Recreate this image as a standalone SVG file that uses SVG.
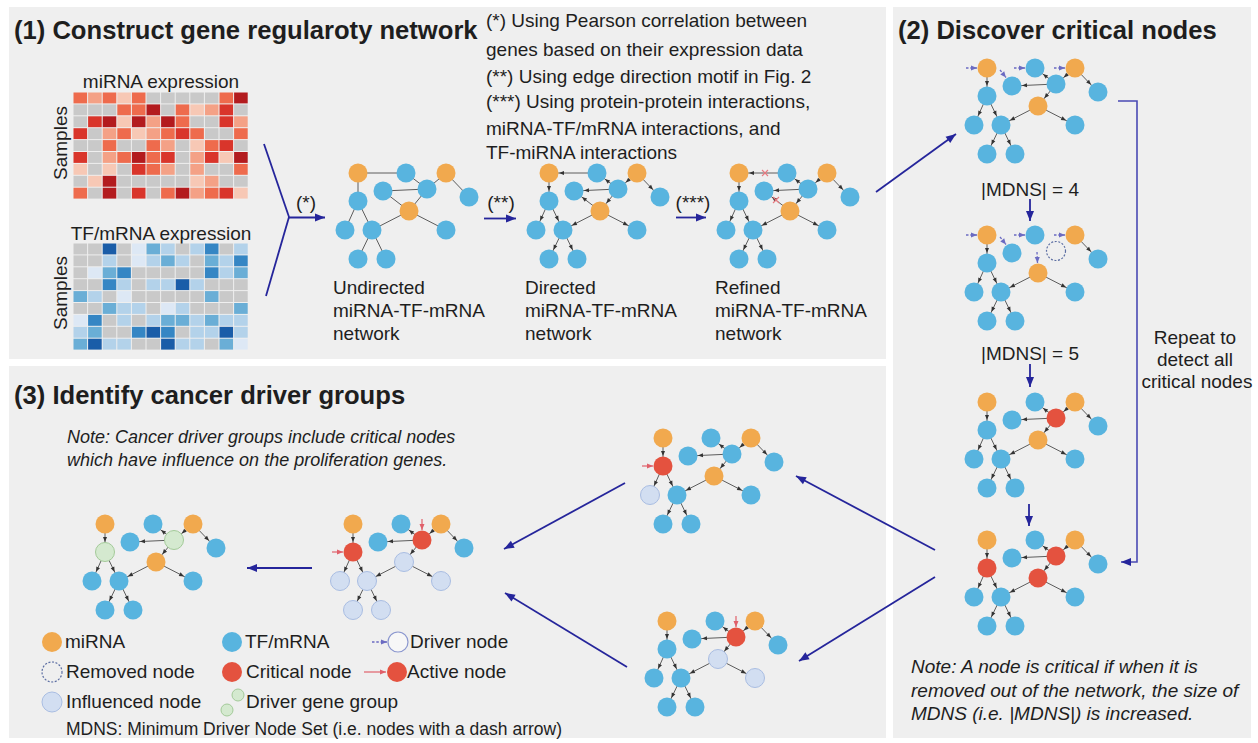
<svg xmlns="http://www.w3.org/2000/svg" xmlns:xlink="http://www.w3.org/1999/xlink" width="1258" height="743" viewBox="0 0 1258 743">
<style>
.t{font-family:"Liberation Sans",Arial,sans-serif;font-size:19px;fill:#1e1e1e}
.h{font-weight:bold;font-size:25.6px}
.it{font-style:italic}
.o{fill:#f1a94e}.b{fill:#58b4df}.r{fill:#e4523f}
.i{fill:#d2def1;stroke:#a9bde2;stroke-width:1}
.g{fill:#d4e9cf;stroke:#a3ca99;stroke-width:1}
.e{stroke:#5c5c5c;stroke-width:1;fill:none}
.ea{stroke:#5c5c5c;stroke-width:1;marker-end:url(#ah)}
.nv{stroke:#25259b;stroke-width:1.8;fill:none;marker-end:url(#an)}
.dr{stroke:#6b6bc2;stroke-width:1.3;stroke-dasharray:2.5 1.8;marker-end:url(#ad)}
.ac{stroke:#e0606a;stroke-width:1.2;marker-end:url(#ar)}
.x{stroke:#e8797f;stroke-width:1.1}
.rm{fill:none;stroke:#5d6fa3;stroke-width:1.2;stroke-dasharray:2 1.6}
.g0{fill:#c9c9c9}.r1{fill:#f7c8b5}.r2{fill:#f4a186}.r3{fill:#ee6b4d}.r4{fill:#d9352b}.r5{fill:#b31b1e}
.u1{fill:#dde8f5}.u2{fill:#b3d2ea}.u3{fill:#6aaed6}.u4{fill:#3586c4}.u5{fill:#1a5da8}
</style>
<defs>
<marker id="ah" markerUnits="userSpaceOnUse" markerWidth="20" markerHeight="10" viewBox="0 -5 20 10" refX="19" refY="0" orient="auto"><path d="M4,-2 L9,0 L4,2 z" fill="#333"/></marker>
<marker id="ad" markerUnits="userSpaceOnUse" markerWidth="8" markerHeight="8" viewBox="0 -4 8 8" refX="8" refY="0" orient="auto"><path d="M2,-2.5 L8,0 L2,2.5 z" fill="#6b6bc2"/></marker>
<marker id="ar" markerUnits="userSpaceOnUse" markerWidth="8" markerHeight="8" viewBox="0 -4 8 8" refX="8" refY="0" orient="auto"><path d="M2,-2.5 L8,0 L2,2.5 z" fill="#e0606a"/></marker>
<marker id="an" markerUnits="userSpaceOnUse" markerWidth="12" markerHeight="10" viewBox="0 -5 12 10" refX="11" refY="0" orient="auto"><path d="M1,-4 L11,0 L1,4 z" fill="#25259b"/></marker>
<rect id="c" width="13.6" height="10.9"/>
<g id="U">
<line class="e" x1="0" y1="0" x2="48" y2="0"/><line class="e" x1="0" y1="0" x2="0" y2="28"/>
<line class="e" x1="0" y1="28" x2="-13" y2="57"/><line class="e" x1="0" y1="28" x2="14" y2="57"/>
<line class="e" x1="14" y1="57" x2="0" y2="86"/><line class="e" x1="14" y1="57" x2="28" y2="86"/>
<line class="e" x1="48" y1="0" x2="69" y2="16"/><line class="e" x1="25" y1="18" x2="69" y2="16"/>
<line class="e" x1="69" y1="16" x2="88" y2="0"/><line class="e" x1="88" y1="0" x2="111" y2="24"/>
<line class="e" x1="69" y1="16" x2="51" y2="38"/><line class="e" x1="51" y1="38" x2="14" y2="57"/>
<line class="e" x1="51" y1="38" x2="88" y2="57"/><line class="e" x1="25" y1="18" x2="51" y2="38"/>
</g>
<g id="E1">
<line class="ea" x1="0" y1="0" x2="0" y2="28"/>
<line class="ea" x1="0" y1="28" x2="-13" y2="57"/>
<line class="ea" x1="0" y1="28" x2="14" y2="57"/>
<line class="ea" x1="14" y1="57" x2="0" y2="86"/>
<line class="ea" x1="14" y1="57" x2="28" y2="86"/>
<line class="ea" x1="88" y1="0" x2="111" y2="24"/>
<line class="ea" x1="51" y1="38" x2="14" y2="57"/>
<line class="ea" x1="51" y1="38" x2="88" y2="57"/>
</g>
<g id="E2">
<line class="ea" x1="69" y1="16" x2="25" y2="18"/>
<line class="ea" x1="69" y1="16" x2="48" y2="0"/>
<line class="ea" x1="88" y1="0" x2="69" y2="16"/>
<line class="ea" x1="69" y1="16" x2="51" y2="38"/>
</g>
<g id="E3">
<line class="ea" x1="48" y1="0" x2="0" y2="0"/>
<line class="ea" x1="51" y1="38" x2="25" y2="18"/>
</g>
<g id="N0">
<circle class="o" cx="0" cy="0" r="9.5"/><circle class="b" cx="48" cy="0" r="9.5"/><circle class="o" cx="88" cy="0" r="9.5"/><circle class="b" cx="25" cy="18" r="9.5"/><circle class="b" cx="69" cy="16" r="9.5"/><circle class="b" cx="111" cy="24" r="9.5"/><circle class="b" cx="0" cy="28" r="9.5"/><circle class="o" cx="51" cy="38" r="9.5"/><circle class="b" cx="-13" cy="57" r="9.5"/><circle class="b" cx="14" cy="57" r="9.5"/><circle class="b" cx="88" cy="57" r="9.5"/><circle class="b" cx="0" cy="86" r="9.5"/><circle class="b" cx="28" cy="86" r="9.5"/>
</g>
<g id="DRV">
<line class="dr" x1="-21" y1="0" x2="-10" y2="0"/>
<line class="dr" x1="13" y1="2" x2="19" y2="9.5"/>
<line class="dr" x1="27" y1="0" x2="38" y2="0"/>
<line class="dr" x1="67" y1="0" x2="78" y2="0"/>
</g>
</defs>

<rect width="1258" height="743" fill="#ffffff"/>
<rect x="9" y="7" width="877" height="352" fill="#efefef"/>
<rect x="893" y="7" width="358" height="731" fill="#efefef"/>
<rect x="9" y="366" width="877" height="372" fill="#efefef"/>

<g id="titles">
<text class="t h" x="14" y="39">(1) Construct gene regularoty network</text>
<text class="t h" x="898" y="39">(2) Discover critical nodes</text>
<text class="t h" x="14" y="404">(3) Identify cancer driver groups</text>
</g>

<g id="notes1">
<text class="t" x="486" y="27">(*) Using Pearson correlation between</text>
<text class="t" x="486" y="56">genes based on their expression data</text>
<text class="t" x="486" y="83">(**) Using edge direction motif in Fig. 2</text>
<text class="t" x="486" y="108">(***) Using protein-protein interactions,</text>
<text class="t" x="486" y="135">miRNA-TF/mRNA interactions, and</text>
<text class="t" x="486" y="159">TF-miRNA interactions</text>
</g>

<g id="heatmap-mirna">
<text class="t" x="161" y="88" text-anchor="middle">miRNA expression</text>
<text class="t" transform="translate(67,143) rotate(-90)" text-anchor="middle">Samples</text>
<g transform="translate(0,92.5)"><use href="#c" x="73.5" class="r3"/><use href="#c" x="88.1" class="r2"/><use href="#c" x="102.7" class="r3"/><use href="#c" x="117.3" class="r1"/><use href="#c" x="131.9" class="r3"/><use href="#c" x="146.5" class="g0"/><use href="#c" x="161.1" class="g0"/><use href="#c" x="175.7" class="g0"/><use href="#c" x="190.3" class="g0"/><use href="#c" x="204.9" class="g0"/><use href="#c" x="219.5" class="r3"/><use href="#c" x="234.1" class="r5"/></g>
<g transform="translate(0,104.4)"><use href="#c" x="73.5" class="g0"/><use href="#c" x="88.1" class="g0"/><use href="#c" x="102.7" class="g0"/><use href="#c" x="117.3" class="r3"/><use href="#c" x="131.9" class="r3"/><use href="#c" x="146.5" class="r5"/><use href="#c" x="161.1" class="g0"/><use href="#c" x="175.7" class="r3"/><use href="#c" x="190.3" class="r1"/><use href="#c" x="204.9" class="r2"/><use href="#c" x="219.5" class="r4"/><use href="#c" x="234.1" class="g0"/></g>
<g transform="translate(0,116.3)"><use href="#c" x="73.5" class="g0"/><use href="#c" x="88.1" class="r4"/><use href="#c" x="102.7" class="r5"/><use href="#c" x="117.3" class="r1"/><use href="#c" x="131.9" class="r5"/><use href="#c" x="146.5" class="r2"/><use href="#c" x="161.1" class="r5"/><use href="#c" x="175.7" class="r3"/><use href="#c" x="190.3" class="g0"/><use href="#c" x="204.9" class="g0"/><use href="#c" x="219.5" class="r4"/><use href="#c" x="234.1" class="r2"/></g>
<g transform="translate(0,128.2)"><use href="#c" x="73.5" class="r4"/><use href="#c" x="88.1" class="g0"/><use href="#c" x="102.7" class="r2"/><use href="#c" x="117.3" class="r3"/><use href="#c" x="131.9" class="r1"/><use href="#c" x="146.5" class="r2"/><use href="#c" x="161.1" class="r3"/><use href="#c" x="175.7" class="r4"/><use href="#c" x="190.3" class="r3"/><use href="#c" x="204.9" class="g0"/><use href="#c" x="219.5" class="g0"/><use href="#c" x="234.1" class="r3"/></g>
<g transform="translate(0,140.1)"><use href="#c" x="73.5" class="g0"/><use href="#c" x="88.1" class="g0"/><use href="#c" x="102.7" class="r3"/><use href="#c" x="117.3" class="g0"/><use href="#c" x="131.9" class="g0"/><use href="#c" x="146.5" class="r3"/><use href="#c" x="161.1" class="r2"/><use href="#c" x="175.7" class="g0"/><use href="#c" x="190.3" class="r1"/><use href="#c" x="204.9" class="r3"/><use href="#c" x="219.5" class="r4"/><use href="#c" x="234.1" class="g0"/></g>
<g transform="translate(0,152)"><use href="#c" x="73.5" class="r4"/><use href="#c" x="88.1" class="g0"/><use href="#c" x="102.7" class="r2"/><use href="#c" x="117.3" class="r3"/><use href="#c" x="131.9" class="r5"/><use href="#c" x="146.5" class="r3"/><use href="#c" x="161.1" class="r4"/><use href="#c" x="175.7" class="g0"/><use href="#c" x="190.3" class="r2"/><use href="#c" x="204.9" class="r4"/><use href="#c" x="219.5" class="r1"/><use href="#c" x="234.1" class="r5"/></g>
<g transform="translate(0,163.9)"><use href="#c" x="73.5" class="r1"/><use href="#c" x="88.1" class="g0"/><use href="#c" x="102.7" class="r1"/><use href="#c" x="117.3" class="g0"/><use href="#c" x="131.9" class="r4"/><use href="#c" x="146.5" class="r3"/><use href="#c" x="161.1" class="r2"/><use href="#c" x="175.7" class="g0"/><use href="#c" x="190.3" class="r2"/><use href="#c" x="204.9" class="g0"/><use href="#c" x="219.5" class="g0"/><use href="#c" x="234.1" class="r3"/></g>
<g transform="translate(0,175.8)"><use href="#c" x="73.5" class="g0"/><use href="#c" x="88.1" class="r1"/><use href="#c" x="102.7" class="r5"/><use href="#c" x="117.3" class="g0"/><use href="#c" x="131.9" class="g0"/><use href="#c" x="146.5" class="g0"/><use href="#c" x="161.1" class="g0"/><use href="#c" x="175.7" class="g0"/><use href="#c" x="190.3" class="r1"/><use href="#c" x="204.9" class="r2"/><use href="#c" x="219.5" class="g0"/><use href="#c" x="234.1" class="g0"/></g>
<g transform="translate(0,187.7)"><use href="#c" x="73.5" class="r3"/><use href="#c" x="88.1" class="g0"/><use href="#c" x="102.7" class="r5"/><use href="#c" x="117.3" class="g0"/><use href="#c" x="131.9" class="r4"/><use href="#c" x="146.5" class="g0"/><use href="#c" x="161.1" class="r3"/><use href="#c" x="175.7" class="r5"/><use href="#c" x="190.3" class="r2"/><use href="#c" x="204.9" class="r3"/><use href="#c" x="219.5" class="r4"/><use href="#c" x="234.1" class="r1"/></g>
</g>

<g id="heatmap-tf">
<text class="t" x="161" y="240" text-anchor="middle">TF/mRNA expression</text>
<text class="t" transform="translate(67,293) rotate(-90)" text-anchor="middle">Samples</text>
<g transform="translate(0,243.5)"><use href="#c" x="73.5" class="g0"/><use href="#c" x="88.1" class="g0"/><use href="#c" x="102.7" class="u5"/><use href="#c" x="117.3" class="g0"/><use href="#c" x="131.9" class="u1"/><use href="#c" x="146.5" class="u3"/><use href="#c" x="161.1" class="u2"/><use href="#c" x="175.7" class="g0"/><use href="#c" x="190.3" class="u2"/><use href="#c" x="204.9" class="u4"/><use href="#c" x="219.5" class="g0"/><use href="#c" x="234.1" class="u2"/></g>
<g transform="translate(0,255.4)"><use href="#c" x="73.5" class="g0"/><use href="#c" x="88.1" class="g0"/><use href="#c" x="102.7" class="u2"/><use href="#c" x="117.3" class="g0"/><use href="#c" x="131.9" class="u1"/><use href="#c" x="146.5" class="u2"/><use href="#c" x="161.1" class="u3"/><use href="#c" x="175.7" class="u2"/><use href="#c" x="190.3" class="g0"/><use href="#c" x="204.9" class="u3"/><use href="#c" x="219.5" class="u2"/><use href="#c" x="234.1" class="u4"/></g>
<g transform="translate(0,267.3)"><use href="#c" x="73.5" class="g0"/><use href="#c" x="88.1" class="u1"/><use href="#c" x="102.7" class="u3"/><use href="#c" x="117.3" class="u4"/><use href="#c" x="131.9" class="g0"/><use href="#c" x="146.5" class="g0"/><use href="#c" x="161.1" class="g0"/><use href="#c" x="175.7" class="g0"/><use href="#c" x="190.3" class="g0"/><use href="#c" x="204.9" class="u4"/><use href="#c" x="219.5" class="u2"/><use href="#c" x="234.1" class="u3"/></g>
<g transform="translate(0,279.2)"><use href="#c" x="73.5" class="g0"/><use href="#c" x="88.1" class="g0"/><use href="#c" x="102.7" class="u4"/><use href="#c" x="117.3" class="u2"/><use href="#c" x="131.9" class="g0"/><use href="#c" x="146.5" class="u2"/><use href="#c" x="161.1" class="u2"/><use href="#c" x="175.7" class="u5"/><use href="#c" x="190.3" class="u2"/><use href="#c" x="204.9" class="g0"/><use href="#c" x="219.5" class="g0"/><use href="#c" x="234.1" class="g0"/></g>
<g transform="translate(0,291.1)"><use href="#c" x="73.5" class="u3"/><use href="#c" x="88.1" class="u2"/><use href="#c" x="102.7" class="g0"/><use href="#c" x="117.3" class="u1"/><use href="#c" x="131.9" class="g0"/><use href="#c" x="146.5" class="g0"/><use href="#c" x="161.1" class="g0"/><use href="#c" x="175.7" class="g0"/><use href="#c" x="190.3" class="g0"/><use href="#c" x="204.9" class="u3"/><use href="#c" x="219.5" class="g0"/><use href="#c" x="234.1" class="g0"/></g>
<g transform="translate(0,303)"><use href="#c" x="73.5" class="g0"/><use href="#c" x="88.1" class="g0"/><use href="#c" x="102.7" class="u3"/><use href="#c" x="117.3" class="u2"/><use href="#c" x="131.9" class="u2"/><use href="#c" x="146.5" class="g0"/><use href="#c" x="161.1" class="u1"/><use href="#c" x="175.7" class="u2"/><use href="#c" x="190.3" class="g0"/><use href="#c" x="204.9" class="g0"/><use href="#c" x="219.5" class="g0"/><use href="#c" x="234.1" class="u3"/></g>
<g transform="translate(0,314.9)"><use href="#c" x="73.5" class="u1"/><use href="#c" x="88.1" class="u4"/><use href="#c" x="102.7" class="g0"/><use href="#c" x="117.3" class="u2"/><use href="#c" x="131.9" class="g0"/><use href="#c" x="146.5" class="u2"/><use href="#c" x="161.1" class="u3"/><use href="#c" x="175.7" class="u3"/><use href="#c" x="190.3" class="u2"/><use href="#c" x="204.9" class="u3"/><use href="#c" x="219.5" class="u2"/><use href="#c" x="234.1" class="u2"/></g>
<g transform="translate(0,326.8)"><use href="#c" x="73.5" class="u2"/><use href="#c" x="88.1" class="u3"/><use href="#c" x="102.7" class="g0"/><use href="#c" x="117.3" class="g0"/><use href="#c" x="131.9" class="u4"/><use href="#c" x="146.5" class="u5"/><use href="#c" x="161.1" class="u4"/><use href="#c" x="175.7" class="g0"/><use href="#c" x="190.3" class="u2"/><use href="#c" x="204.9" class="u2"/><use href="#c" x="219.5" class="u5"/><use href="#c" x="234.1" class="u2"/></g>
<g transform="translate(0,338.7)"><use href="#c" x="73.5" class="u3"/><use href="#c" x="88.1" class="u5"/><use href="#c" x="102.7" class="u2"/><use href="#c" x="117.3" class="u2"/><use href="#c" x="131.9" class="g0"/><use href="#c" x="146.5" class="g0"/><use href="#c" x="161.1" class="u5"/><use href="#c" x="175.7" class="u2"/><use href="#c" x="190.3" class="u2"/><use href="#c" x="204.9" class="g0"/><use href="#c" x="219.5" class="u3"/><use href="#c" x="234.1" class="u1"/></g>
</g>

<g id="net-undirected" transform="translate(358,173)">
<use href="#U"/><use href="#N0"/>
</g>
<text class="t" x="333" y="294">Undirected</text>
<text class="t" x="333" y="317">miRNA-TF-mRNA</text>
<text class="t" x="333" y="340">network</text>

<g id="net-directed" transform="translate(549,173)">
<use href="#E1"/><use href="#E2"/><use href="#E3"/><use href="#N0"/>
</g>
<text class="t" x="525" y="294">Directed</text>
<text class="t" x="525" y="317">miRNA-TF-mRNA</text>
<text class="t" x="525" y="340">network</text>

<g id="net-refined" transform="translate(739,173)">
<use href="#E1"/><use href="#E2"/><use href="#E3"/><use href="#N0"/>
<line class="x" x1="23" y1="-3" x2="29" y2="3"/><line class="x" x1="23" y1="3" x2="29" y2="-3"/>
<line class="x" x1="34" y1="24" x2="40" y2="30"/><line class="x" x1="34" y1="30" x2="40" y2="24"/>
</g>
<text class="t" x="715" y="294">Refined</text>
<text class="t" x="715" y="317">miRNA-TF-mRNA</text>
<text class="t" x="715" y="340">network</text>

<g id="net-mdns4" transform="translate(987,68)">
<use href="#E1"/><use href="#E2"/><use href="#N0"/><use href="#DRV"/>
</g>
<text class="t" x="1030" y="196" text-anchor="middle">|MDNS| = 4</text>

<g id="net-mdns5" transform="translate(987,235)">
<use href="#E1"/>
<circle class="o" cx="0" cy="0" r="9.5"/><circle class="b" cx="48" cy="0" r="9.5"/><circle class="o" cx="88" cy="0" r="9.5"/><circle class="b" cx="25" cy="18" r="9.5"/><circle class="rm" cx="69" cy="16" r="9.5"/><circle class="b" cx="111" cy="24" r="9.5"/><circle class="b" cx="0" cy="28" r="9.5"/><circle class="o" cx="51" cy="38" r="9.5"/><circle class="b" cx="-13" cy="57" r="9.5"/><circle class="b" cx="14" cy="57" r="9.5"/><circle class="b" cx="88" cy="57" r="9.5"/><circle class="b" cx="0" cy="86" r="9.5"/><circle class="b" cx="28" cy="86" r="9.5"/>
<use href="#DRV"/>
<line class="dr" x1="50" y1="17" x2="50.5" y2="28"/>
</g>
<text class="t" x="1030" y="360" text-anchor="middle">|MDNS| = 5</text>

<g id="net-critical1" transform="translate(987,402)">
<use href="#E1"/><use href="#E2"/>
<circle class="o" cx="0" cy="0" r="9.5"/><circle class="b" cx="48" cy="0" r="9.5"/><circle class="o" cx="88" cy="0" r="9.5"/><circle class="b" cx="25" cy="18" r="9.5"/><circle class="r" cx="69" cy="16" r="9.5"/><circle class="b" cx="111" cy="24" r="9.5"/><circle class="b" cx="0" cy="28" r="9.5"/><circle class="o" cx="51" cy="38" r="9.5"/><circle class="b" cx="-13" cy="57" r="9.5"/><circle class="b" cx="14" cy="57" r="9.5"/><circle class="b" cx="88" cy="57" r="9.5"/><circle class="b" cx="0" cy="86" r="9.5"/><circle class="b" cx="28" cy="86" r="9.5"/>
</g>

<g id="net-critical-all" transform="translate(987,540)">
<use href="#E1"/><use href="#E2"/>
<circle class="o" cx="0" cy="0" r="9.5"/><circle class="b" cx="48" cy="0" r="9.5"/><circle class="o" cx="88" cy="0" r="9.5"/><circle class="b" cx="25" cy="18" r="9.5"/><circle class="r" cx="69" cy="16" r="9.5"/><circle class="b" cx="111" cy="24" r="9.5"/><circle class="r" cx="0" cy="28" r="9.5"/><circle class="r" cx="51" cy="38" r="9.5"/><circle class="b" cx="-13" cy="57" r="9.5"/><circle class="b" cx="14" cy="57" r="9.5"/><circle class="b" cx="88" cy="57" r="9.5"/><circle class="b" cx="0" cy="86" r="9.5"/><circle class="b" cx="28" cy="86" r="9.5"/>
</g>

<g id="repeat-label">
<text class="t" x="1195" y="344" text-anchor="middle">Repeat to</text>
<text class="t" x="1195" y="366" text-anchor="middle">detect all</text>
<text class="t" x="1197" y="388" text-anchor="middle">critical nodes</text>
</g>

<g id="net-active1" transform="translate(663,438)">
<use href="#E1"/><use href="#E2"/>
<circle class="o" cx="0" cy="0" r="9.5"/><circle class="b" cx="48" cy="0" r="9.5"/><circle class="o" cx="88" cy="0" r="9.5"/><circle class="b" cx="25" cy="18" r="9.5"/><circle class="b" cx="69" cy="16" r="9.5"/><circle class="b" cx="111" cy="24" r="9.5"/><circle class="r" cx="0" cy="28" r="9.5"/><circle class="o" cx="51" cy="38" r="9.5"/><circle class="i" cx="-13" cy="57" r="9.5"/><circle class="b" cx="14" cy="57" r="9.5"/><circle class="b" cx="88" cy="57" r="9.5"/><circle class="b" cx="0" cy="86" r="9.5"/><circle class="b" cx="28" cy="86" r="9.5"/>
<line class="ac" x1="-21" y1="28" x2="-10" y2="28"/>
</g>

<g id="net-active2" transform="translate(667,621)">
<use href="#E1"/><use href="#E2"/>
<circle class="o" cx="0" cy="0" r="9.5"/><circle class="b" cx="48" cy="0" r="9.5"/><circle class="o" cx="88" cy="0" r="9.5"/><circle class="b" cx="25" cy="18" r="9.5"/><circle class="r" cx="69" cy="16" r="9.5"/><circle class="b" cx="111" cy="24" r="9.5"/><circle class="b" cx="0" cy="28" r="9.5"/><circle class="i" cx="51" cy="38" r="9.5"/><circle class="b" cx="-13" cy="57" r="9.5"/><circle class="b" cx="14" cy="57" r="9.5"/><circle class="i" cx="88" cy="57" r="9.5"/><circle class="b" cx="0" cy="86" r="9.5"/><circle class="b" cx="28" cy="86" r="9.5"/>
<line class="ac" x1="69" y1="-5" x2="69" y2="6"/>
</g>

<g id="net-influence" transform="translate(353,524)">
<use href="#E1"/><use href="#E2"/>
<circle class="o" cx="0" cy="0" r="9.5"/><circle class="b" cx="48" cy="0" r="9.5"/><circle class="o" cx="88" cy="0" r="9.5"/><circle class="b" cx="25" cy="18" r="9.5"/><circle class="r" cx="69" cy="16" r="9.5"/><circle class="b" cx="111" cy="24" r="9.5"/><circle class="r" cx="0" cy="28" r="9.5"/><circle class="i" cx="51" cy="38" r="9.5"/><circle class="i" cx="-13" cy="57" r="9.5"/><circle class="i" cx="14" cy="57" r="9.5"/><circle class="i" cx="88" cy="57" r="9.5"/><circle class="i" cx="0" cy="86" r="9.5"/><circle class="i" cx="28" cy="86" r="9.5"/>
<line class="ac" x1="-21" y1="28" x2="-10" y2="28"/>
<line class="ac" x1="69" y1="-5" x2="69" y2="6"/>
</g>

<g id="net-driver-groups" transform="translate(105,524)">
<use href="#E1"/><use href="#E2"/>
<circle class="o" cx="0" cy="0" r="9.5"/><circle class="b" cx="48" cy="0" r="9.5"/><circle class="o" cx="88" cy="0" r="9.5"/><circle class="b" cx="25" cy="18" r="9.5"/><circle class="g" cx="69" cy="16" r="9.5"/><circle class="b" cx="111" cy="24" r="9.5"/><circle class="g" cx="0" cy="28" r="9.5"/><circle class="o" cx="51" cy="38" r="9.5"/><circle class="b" cx="-13" cy="57" r="9.5"/><circle class="b" cx="14" cy="57" r="9.5"/><circle class="b" cx="88" cy="57" r="9.5"/><circle class="b" cx="0" cy="86" r="9.5"/><circle class="b" cx="28" cy="86" r="9.5"/>
</g>

<g id="note3">
<text class="t it" x="67" y="443" style="font-size:18px">Note: Cancer driver groups include critical nodes</text>
<text class="t it" x="67" y="466" style="font-size:18px">which have influence on the proliferation genes.</text>
</g>

<g id="note2">
<text class="t it" x="911" y="673">Note: A node is critical if when it is</text>
<text class="t it" x="911" y="697">removed out of the network, the size of</text>
<text class="t it" x="911" y="720">MDNS (i.e. |MDNS|) is increased.</text>
</g>

<g id="connectors">
<line class="e" x1="264" y1="144" x2="289" y2="217" style="stroke:#25259b;stroke-width:1.8"/>
<line class="e" x1="266" y1="296" x2="289" y2="217" style="stroke:#25259b;stroke-width:1.8"/>
<line class="nv" x1="289" y1="217.5" x2="325" y2="217.5"/>
<text class="t" x="306" y="209" text-anchor="middle">(*)</text>
<line class="nv" x1="484" y1="218.5" x2="516" y2="218.5"/>
<text class="t" x="501" y="209" text-anchor="middle">(**)</text>
<line class="nv" x1="676" y1="217.5" x2="706" y2="217.5"/>
<text class="t" x="693" y="209" text-anchor="middle">(***)</text>
<line class="nv" x1="876" y1="192" x2="956" y2="134"/>
<line class="nv" x1="1030" y1="199" x2="1030" y2="221"/>
<line class="nv" x1="1030" y1="364" x2="1030" y2="387"/>
<line class="nv" x1="1029" y1="504" x2="1029" y2="526"/>
<polyline class="nv" points="1118,101 1137,101 1137,562 1121,562" style="stroke:#4a4ab4;stroke-width:1.6"/>
<line class="nv" x1="935" y1="550" x2="796" y2="476"/>
<line class="nv" x1="935" y1="577" x2="799" y2="661"/>
<line class="nv" x1="625" y1="483" x2="504" y2="549"/>
<line class="nv" x1="627" y1="667" x2="505" y2="593"/>
<line class="nv" x1="312" y1="568" x2="247" y2="568"/>
</g>

<g id="legend">
<circle class="o" cx="52" cy="642" r="10"/><text class="t" x="65" y="648">miRNA</text>
<circle class="b" cx="232" cy="642" r="10"/><text class="t" x="245" y="648">TF/mRNA</text>
<line class="dr" x1="372" y1="642" x2="387" y2="642"/><circle cx="398" cy="642" r="10" fill="#f7f7f7" stroke="#8b97cf" stroke-width="1.2"/><text class="t" x="410" y="648">Driver node</text>
<circle class="rm" cx="52" cy="672" r="10"/><text class="t" x="66" y="678">Removed node</text>
<circle class="r" cx="232" cy="672" r="10"/><text class="t" x="246" y="678">Critical node</text>
<line class="ac" x1="364" y1="672" x2="386" y2="672"/><circle class="r" cx="397" cy="672" r="10"/><text class="t" x="407" y="678">Active node</text>
<circle class="i" cx="52" cy="702" r="10"/><text class="t" x="66" y="708">Influenced node</text>
<circle class="g" cx="227" cy="710" r="6"/><circle class="g" cx="238" cy="695" r="6"/><text class="t" x="246" y="708">Driver gene group</text>
<text class="t" x="66" y="735" style="font-size:17.5px">MDNS: Minimum Driver Node Set (i.e. nodes with a dash arrow)</text>
</g>
</svg>
